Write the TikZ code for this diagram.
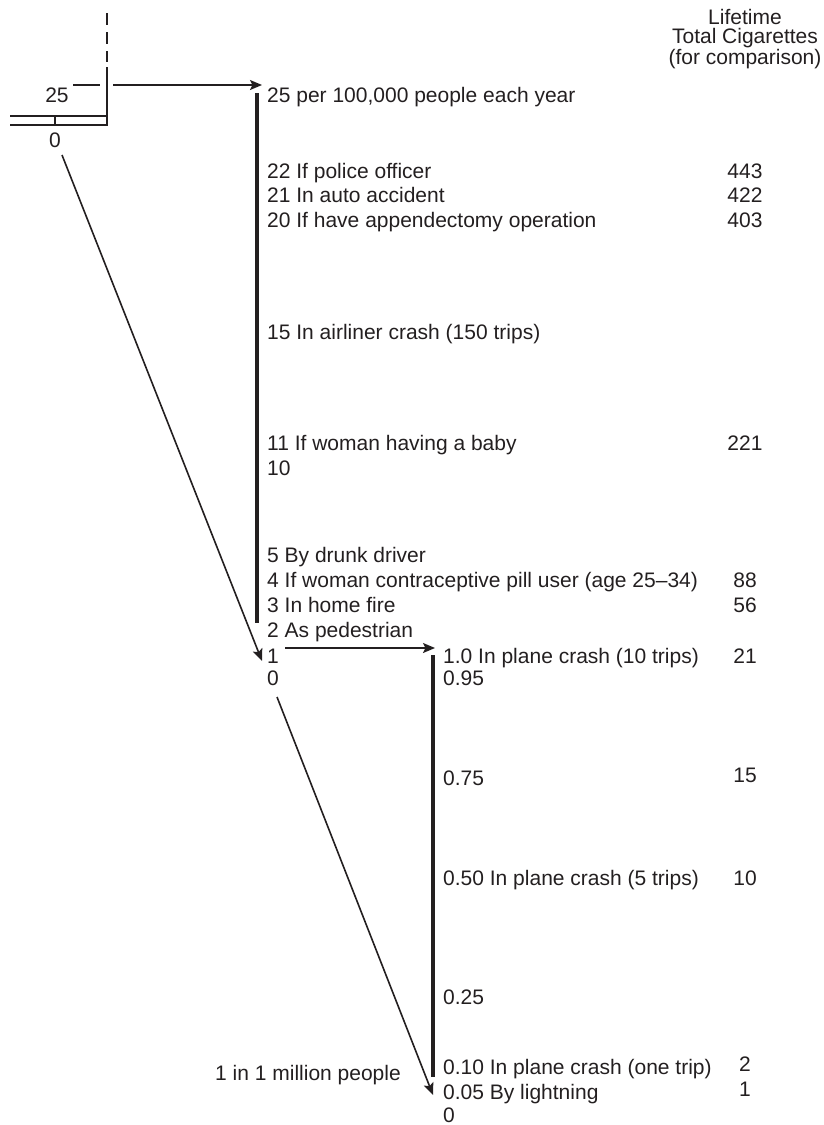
\documentclass[tikz,border=0pt]{standalone}
\usepackage{fontspec}
\setmainfont{Liberation Sans}
\usetikzlibrary{arrows.meta}
\definecolor{ink}{HTML}{231F20}
\begin{document}
\begin{tikzpicture}[x=1pt,y=-1pt,
  lbl/.style={inner sep=0pt,text height=15pt,text depth=0pt,anchor=west,text=ink,font=\fontsize{21}{25}\selectfont},
  num/.style={inner sep=0pt,text height=15pt,text depth=0pt,anchor=center,text=ink,font=\fontsize{21}{25}\selectfont},
  hdr/.style={inner sep=0pt,anchor=center,text=ink,font=\fontsize{21}{25}\selectfont,align=center},
  thin/.style={draw=ink,line width=1.8pt},
  bar/.style={draw=ink,line width=4pt},
  arr/.style={draw=ink,line width=1.6pt,-{Stealth[length=12pt,width=10pt,inset=2.5pt]}}]
\useasboundingbox (0,0) rectangle (824,1125);
% top-left fragment
\draw[thin,dash pattern=on 12pt off 7pt] (107,13) -- (107,62);
\draw[thin,line join=miter] (107,67) -- (107,125) -- (10,125);
\draw[thin] (10,116) -- (107,116);
\draw[thin] (55,116) -- (55,125);
\draw[draw=ink,line width=2pt] (73,85) -- (100,85);
\node[num] (t25) at (57,95) {25};
\node[num] (t0) at (55,140) {0};
% header
\node[hdr] (h1) at (745,17) {Lifetime};
\node[hdr] (h2) at (745,38) {Total Cigarettes};
\node[hdr] (h3) at (745,59) {(for comparison)};
% first scale
\coordinate (a1s) at (113,85);
\coordinate (a1e) at (262,85);
\draw[arr] (a1s) -- (a1e);
\coordinate (b1t) at (257,93);
\coordinate (b1b) at (257,623);
\draw[bar] (b1t) -- (b1b);
\node[lbl] (l25) at (267,95) {25 per 100,000 people each year};
\node[lbl] (l22) at (267,171) {22 If police officer};
\node[lbl] (l21) at (267,195) {21 In auto accident};
\node[lbl] (l20) at (267,220) {20 If have appendectomy operation};
\node[lbl] (l15) at (267,332) {15 In airliner crash (150 trips)};
\node[lbl] (l11) at (267,443) {11 If woman having a baby};
\node[lbl] (l10) at (267,468) {10};
\node[lbl] (l5) at (267,555) {5 By drunk driver};
\node[lbl] (l4) at (267,580) {4 If woman contraceptive pill user (age 25--34)};
\node[lbl] (l3) at (267,605) {3 In home fire};
\node[lbl] (l2) at (267,630) {2 As pedestrian};
\node[lbl] (l1) at (267,656) {1};
\node[lbl] (l0) at (267,678) {0};
% diagonal 1
\coordinate (d1s) at (62,155);
\coordinate (d1e) at (262,661);
\draw[arr] (d1s) -- (d1e);
% second scale
\coordinate (a2s) at (285,648);
\coordinate (a2e) at (435,648);
\draw[arr] (a2s) -- (a2e);
\coordinate (b2t) at (433,655);
\coordinate (b2b) at (433,1077);
\draw[bar] (b2t) -- (b2b);
\node[lbl] (m100) at (443,656) {1.0 In plane crash (10 trips)};
\node[lbl] (m95) at (443,678) {0.95};
\node[lbl] (m75) at (443,778) {0.75};
\node[lbl] (m50) at (443,878) {0.50 In plane crash (5 trips)};
\node[lbl] (m25) at (443,997) {0.25};
\node[lbl] (m10) at (443,1067) {0.10 In plane crash (one trip)};
\node[lbl] (m05) at (443,1092) {0.05 By lightning};
\node[lbl] (m00) at (443,1115) {0};
\coordinate (d2s) at (277,697);
\coordinate (d2e) at (433,1095);
\draw[arr] (d2s) -- (d2e);
\node[lbl] (mil) at (215,1073) {1 in 1 million people};
% comparison column
\node[num] (c443) at (745,171) {443};
\node[num] (c422) at (745,195) {422};
\node[num] (c403) at (745,220) {403};
\node[num] (c221) at (745,443) {221};
\node[num] (c88) at (745,580) {88};
\node[num] (c56) at (745,605) {56};
\node[num] (c21) at (745,656) {21};
\node[num] (c15) at (745,775) {15};
\node[num] (c10) at (745,878) {10};
\node[num] (c2) at (745,1064) {2};
\node[num] (c1) at (745,1089) {1};
\end{tikzpicture}
\end{document}
